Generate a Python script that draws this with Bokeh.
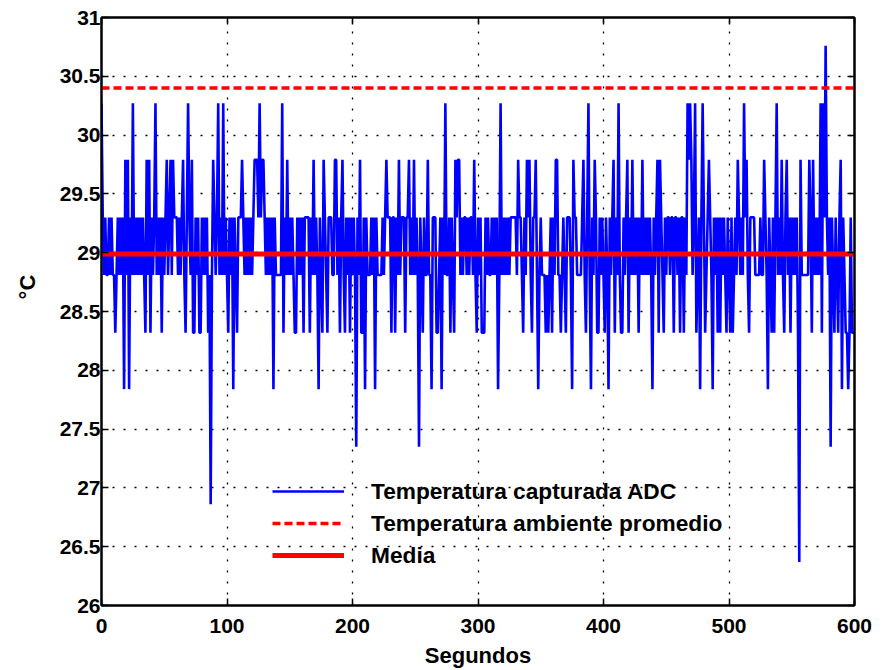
from bokeh.plotting import figure
from bokeh.models import (LinearAxis, Range1d, FixedTicker, Legend, LegendItem,
                          ColumnDataSource, CustomLabelingPolicy)
from bokeh.embed import file_html
from bokeh.resources import INLINE

# ---- data ----
# ADC quantisation levels (deg C) and the per-second sample codes (index into the levels)
adc_levels = [26.37, 26.86, 27.35, 27.84, 28.32, 28.81, 29.30, 29.79, 30.27, 30.76]
adc_codes = (
    "8656556565" "5456565637" "5736585656" "5656547574" "6568565646"
    "5675675766" "6565675468" "6574465644" "6565645157" "6568565856"
    "5465636546" "6676565656" "5677768677" "6565656365" "5555846575"
    "6565446565" "6466664657" "5653654765" "4666557756" "4675465646"
    "5652657446" "3655565636" "5555656766" "6466465756" "6646675657"
    "5652654655" "7553666445" "6365855646" "5476775656" "6565665754"
    "6564446565" "5656563585" "6565656666" "6576654657" "6754667535"
    "6555454564" "6577554565" "4666537665" "5556754685" "3657644656"
    "5465365674" "6585446567" "4657565646" "5756565653" "6567476546"
    "5665664665" "6466465878" "7568456368" "6456765365" "6464656546"
    "5464565765" "6586754666" "6555565576" "5365464685" "6575467564"
    "6565640755" "5555764756" "5658486965" "6265465467" "36544346444"
)
seconds = list(range(len(adc_codes)))
temperature_adc = [adc_levels[int(c)] for c in adc_codes]

ambient_avg = 30.40
media_value = 28.99

x_ticks = [0, 100, 200, 300, 400, 500, 600]
y_ticks = [26, 26.5, 27, 27.5, 28, 28.5, 29, 29.5, 30, 30.5, 31]
y_tick_labels = ["26", "26.5", "27", "27.5", "28", "28.5", "29", "29.5", "30", "30.5", "31"]

series_names = ["Temperatura capturada ADC", "Temperatura ambiente promedio", "Media"]
x_label = "Segundos"
y_label = "\u00b0C"

FONT = "Liberation Sans"

p = figure(width=883, height=670, x_range=Range1d(0, 600), y_range=Range1d(26, 31),
           output_backend="svg", toolbar_location=None,
           min_border_left=101, min_border_right=29, min_border_top=17, min_border_bottom=63)
p.background_fill_color = "white"
p.border_fill_color = "white"
p.outline_line_color = "black"
p.outline_line_width = 2

src = ColumnDataSource(dict(x=seconds, y=temperature_adc))
r_adc = p.line("x", "y", source=src, line_color="#0000ff", line_width=2.6)
r_amb = p.line([seconds[0], seconds[-1]], [ambient_avg, ambient_avg],
               line_color="#ff0000", line_width=3.5, line_dash="8 4")
r_med = p.line([seconds[0], seconds[-1]], [media_value, media_value],
               line_color="#ff0000", line_width=5)

overrides = {}
for t, lbl in zip(y_ticks, y_tick_labels):
    overrides[int(t) if float(t).is_integer() else t] = lbl

no_labels = CustomLabelingPolicy(code="return new Set()")


def style_axis(ax, ticks, show_labels=True):
    ax.ticker = FixedTicker(ticks=ticks)
    ax.axis_line_color = "black"
    ax.axis_line_width = 2
    ax.major_tick_line_color = "black"
    ax.major_tick_line_width = 1.5
    ax.major_tick_in = 7
    ax.major_tick_out = 0
    ax.minor_tick_line_color = None
    ax.major_label_text_font = FONT
    ax.major_label_text_font_style = "bold"
    ax.major_label_text_color = "black"
    ax.major_label_text_font_size = "21px"
    if not show_labels:
        ax.major_label_policy = no_labels
        ax.major_label_text_font_size = "0px"
        ax.major_label_standoff = 0
    ax.axis_label_text_font = FONT
    ax.axis_label_text_font_style = "bold"
    ax.axis_label_text_font_size = "22px"
    ax.axis_label_text_color = "black"


xa = p.xaxis[0]
ya = p.yaxis[0]
style_axis(xa, x_ticks)
style_axis(ya, y_ticks)
ya.major_label_overrides = overrides
xa.axis_label = x_label
xa.major_label_standoff = 13
xa.axis_label_standoff = 7
ya.major_label_standoff = 1
# leading no-break spaces lift the visible title above the axis centre, as in the reference
ya.axis_label = "\u00a0" * 8 + y_label
ya.axis_label_standoff = 17

top_ax = LinearAxis()
right_ax = LinearAxis()
style_axis(top_ax, x_ticks, show_labels=False)
style_axis(right_ax, y_ticks, show_labels=False)
p.add_layout(top_ax, "above")
p.add_layout(right_ax, "right")

for g, ticks in ((p.xgrid[0], x_ticks), (p.ygrid[0], y_ticks)):
    g.ticker = FixedTicker(ticks=ticks)
    g.grid_line_color = "black"
    g.grid_line_width = 1.3
    g.grid_line_dash = "2 9"

legend = Legend(items=[LegendItem(label=series_names[0], renderers=[r_adc]),
                       LegendItem(label=series_names[1], renderers=[r_amb]),
                       LegendItem(label=series_names[2], renderers=[r_med])],
                location=(171, 34), glyph_width=72, glyph_height=32, label_height=32,
                label_standoff=27, spacing=0, padding=0, margin=0,
                border_line_color=None, background_fill_alpha=0,
                label_text_font=FONT, label_text_font_style="bold",
                label_text_font_size="22.7px", label_text_color="black")
p.add_layout(legend)

open("out.html", "w").write(file_html(p, INLINE))
